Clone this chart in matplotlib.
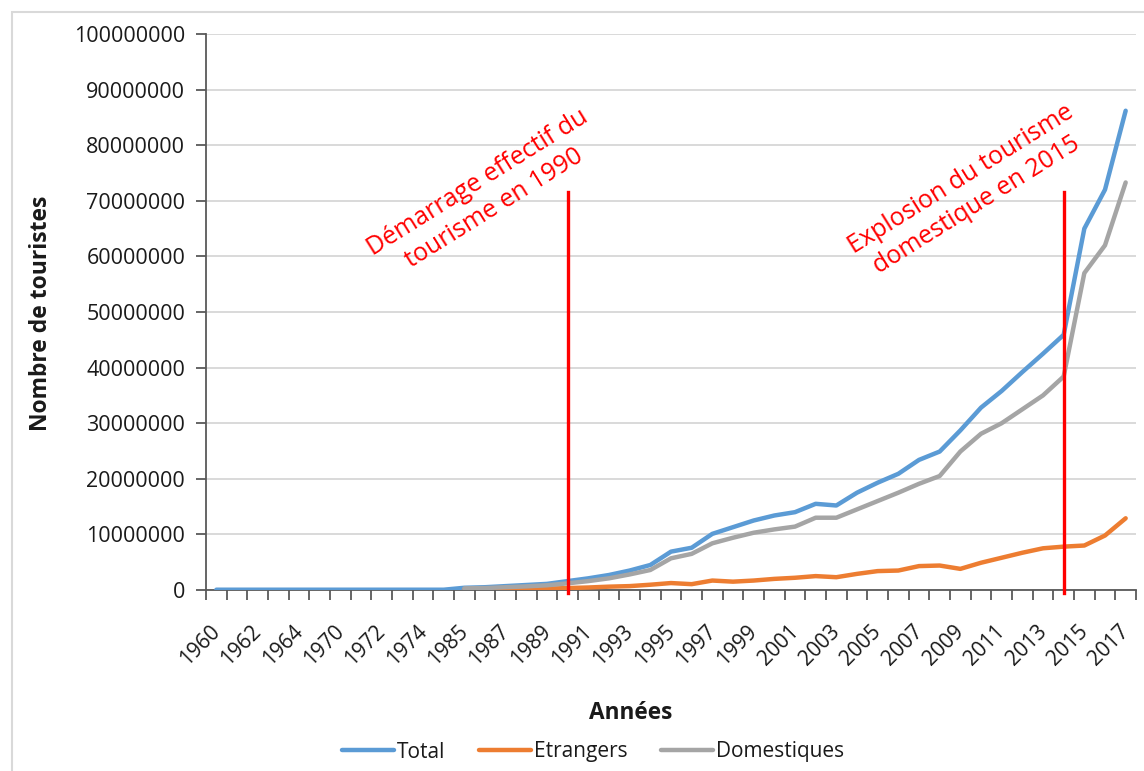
import numpy as np
import matplotlib
matplotlib.use('Agg')
import matplotlib.pyplot as plt
import matplotlib.transforms as mtrans
from matplotlib.patches import Rectangle

# ---------------- data ----------------
years = ['1960', '1961', '1962', '1963', '1964', '1965', '1970', '1971', '1972',
         '1973', '1974', '1980', '1985', '1986', '1987', '1988', '1989', '1990',
         '1991', '1992', '1993', '1994', '1995', '1996', '1997', '1998', '1999',
         '2000', '2001', '2002', '2003', '2004', '2005', '2006', '2007', '2008',
         '2009', '2010', '2011', '2012', '2013', '2014', '2015', '2016', '2017']

# values in millions of tourists
total = [0.05, 0.05, 0.05, 0.05, 0.05, 0.05, 0.05, 0.05, 0.05, 0.05, 0.05, 0.05,
         0.4, 0.5, 0.7, 0.9, 1.1, 1.6, 2.1, 2.7, 3.5, 4.5, 6.9, 7.6, 10.1, 11.3,
         12.5, 13.4, 14.0, 15.5, 15.2, 17.5, 19.3, 20.9, 23.4, 24.9, 28.7, 32.8,
         35.8, 39.2, 42.5, 45.9, 65.0, 72.0, 86.2]
etrangers = [None] * 12 + [
    0.1, 0.12, 0.15, 0.2, 0.25, 0.35, 0.45, 0.6, 0.7, 0.95, 1.25, 1.05, 1.7, 1.5,
    1.7, 2.0, 2.2, 2.5, 2.3, 2.9, 3.4, 3.5, 4.3, 4.4, 3.8, 4.9, 5.8, 6.7, 7.5,
    7.8, 8.0, 9.8, 12.9]
domestiques = [None] * 12 + [
    0.3, 0.35, 0.5, 0.65, 0.85, 1.2, 1.6, 2.1, 2.8, 3.6, 5.7, 6.5, 8.4, 9.4,
    10.3, 10.9, 11.4, 13.0, 13.0, 14.5, 16.0, 17.5, 19.1, 20.5, 24.9, 28.1,
    30.0, 32.5, 35.0, 38.4, 57.0, 62.0, 73.3]
unit = 1e6

y_ticks = list(range(0, 100000001, 10000000))
series_names = ['Total', 'Etrangers', 'Domestiques']
series_colors = ['#5B9BD5', '#ED7D31', '#A5A5A5']

annot_years = ['1990', '2014']
annot_top = 71.6  # millions
annot_texts = ['Démarrage effectif du\ntourisme en 1990',
               'Explosion du tourisme\ndomestique en 2015']

# ---------------- figure ----------------
FONT = 'Open Sans'
plt.rcParams['font.family'] = [FONT, 'DejaVu Sans']

W, H = 1144, 771
fig = plt.figure(figsize=(W / 100, H / 100), dpi=100)
fig.patch.set_facecolor('white')
fig.patches.append(Rectangle((12 / W, -0.2), 1.3, 1 - 12 / H + 0.2,
                             transform=fig.transFigure, fill=False,
                             edgecolor='#D9D9D9', lw=1.5, zorder=0))

ax = fig.add_axes([206 / W, 1 - 590 / H, 930 / W, 556 / H])
x = np.arange(len(years))

def arr(v):
    return np.array([np.nan if a is None else a * unit for a in v], dtype=float)

for name, vals, col in zip(series_names, [total, etrangers, domestiques], series_colors):
    ax.plot(x, arr(vals), color=col, lw=3.2, label=name,
            solid_joinstyle='round', solid_capstyle='round', zorder=3)

# red vertical annotation lines
for yr in annot_years:
    xi = years.index(yr)
    ax.plot([xi, xi], [-0.6 * unit, annot_top * unit], color='#FF0000', lw=2.4,
            clip_on=False, zorder=4)

ax.text(0.301, 0.710, annot_texts[0], transform=ax.transAxes, rotation=32,
        rotation_mode='anchor', ha='center', va='center', multialignment='center',
        color='#FF0000', fontsize=18, linespacing=1.3, zorder=5)
ax.text(0.820, 0.716, annot_texts[1], transform=ax.transAxes, rotation=32,
        rotation_mode='anchor', ha='center', va='center', multialignment='center',
        color='#FF0000', fontsize=18, linespacing=1.3, zorder=5)

ax.set_xlim(-0.5, len(years) - 0.5)
ax.set_ylim(0, 1e8)

ax.set_yticks(y_ticks)
ax.set_yticklabels([str(v) for v in y_ticks])
ax.yaxis.grid(True, color='#D9D9D9', lw=1.4)
ax.set_axisbelow(True)

ax.set_xticks(np.arange(-0.5, len(years)))
ax.set_xticklabels([])
ax.tick_params(axis='x', direction='out', length=7, width=1.3, color='#595959')
ax.tick_params(axis='y', direction='out', length=7, width=1.3, color='#595959',
               pad=8, labelsize=15.5, labelcolor='#1a1a1a')

for s in ['top', 'right']:
    ax.spines[s].set_visible(False)
for s in ['left', 'bottom']:
    ax.spines[s].set_color('#595959')
    ax.spines[s].set_linewidth(1.3)

# x tick labels (every other category), rotated 45 degrees
lab_tr = mtrans.blended_transform_factory(ax.transData, ax.transAxes) + \
    mtrans.ScaledTranslation(8 / 100, -31 / 100, fig.dpi_scale_trans)
for i in range(0, len(years), 2):
    ax.text(i, 0, years[i], transform=lab_tr, rotation=45, ha='right', va='top',
            fontsize=15, color='#1a1a1a', clip_on=False)

fig.text(41 / W, 1 - 313 / H, 'Nombre de touristes', rotation=90, ha='center',
         va='center', fontsize=16.5, fontweight='bold', color='#1a1a1a')
fig.text(631 / W, 1 - 713 / H, 'Années', ha='center', va='center',
         fontsize=16.3, fontweight='bold', color='#1a1a1a')

leg = fig.legend(loc='center', bbox_to_anchor=(593 / W, 1 - 752 / H), ncol=3,
                 frameon=False, fontsize=15, handlelength=2.5,
                 handletextpad=0.15, columnspacing=1.6)
for t in leg.get_texts():
    t.set_color('#1a1a1a')

fig.savefig('out.png', dpi=100)
